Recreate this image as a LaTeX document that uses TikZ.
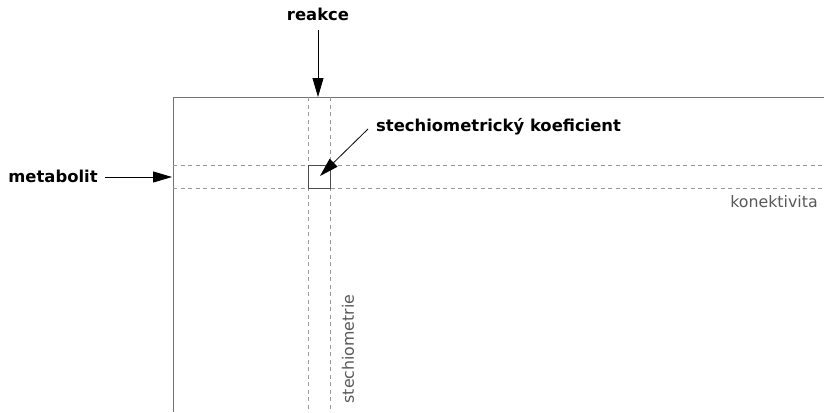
\documentclass[tikz,border=0pt]{standalone}
\usepackage{fontspec}
\setmainfont{DejaVu Sans}
\usetikzlibrary{arrows.meta}
\begin{document}
\begin{tikzpicture}[x=1pt,y=-1pt,
  frame/.style={draw=black!55,line width=0.9pt},
  grid/.style={draw=black!40,line width=0.9pt,dash pattern=on 4pt off 3.5pt},
  cell/.style={draw=black!70,line width=0.9pt},
  pointer/.style={draw=black,line width=0.8pt,-{Triangle[length=19pt,width=11pt]}},
  title/.style={font=\fontsize{16.4}{19}\selectfont\bfseries,inner sep=0pt},
  tag/.style={font=\fontsize{15.8}{19}\selectfont,text=black!65,inner sep=0pt}]
\useasboundingbox (0,0) rectangle (824,412);
% matrix frame
\coordinate (tl) at (173,97);
\coordinate (tr) at (824,97);
\coordinate (bl) at (173,412);
\draw[frame] (bl) -- (tl) -- (tr);
% row and column guides
\coordinate (r1a) at (173,165); \coordinate (r1b) at (824,165);
\coordinate (r2a) at (173,188); \coordinate (r2b) at (824,188);
\coordinate (c1a) at (308,97);  \coordinate (c1b) at (308,412);
\coordinate (c2a) at (330,97);  \coordinate (c2b) at (330,412);
\draw[grid] (r1a) -- (r1b);
\draw[grid] (r2a) -- (r2b);
\draw[grid] (c1a) -- (c1b);
\draw[grid] (c2a) -- (c2b);
% single entry
\node[cell,minimum width=22pt,minimum height=23pt,inner sep=0pt] (entry) at (319,176.5) {};
% labels
\node[title] (reakce) at (318,14) {reakce};
\node[title] (metabolit) at (53,176) {metabolit};
\node[title,anchor=west] (koef) at (376,127) {stechiometrický koeficient};
\node[tag] (konekt) at (774,202) {konektivita};
\node[tag,rotate=90] (stech) at (348,349) {stechiometrie};
% pointers
\coordinate (reakceEnd) at (318,97);
\coordinate (metEnd) at (172,177);
\coordinate (entryTip) at (320,176);
\draw[pointer] (318,30) -- (reakceEnd);
\draw[pointer] (105,177) -- (metEnd);
\draw[pointer] (368,129) -- (entryTip);
\end{tikzpicture}
\end{document}
